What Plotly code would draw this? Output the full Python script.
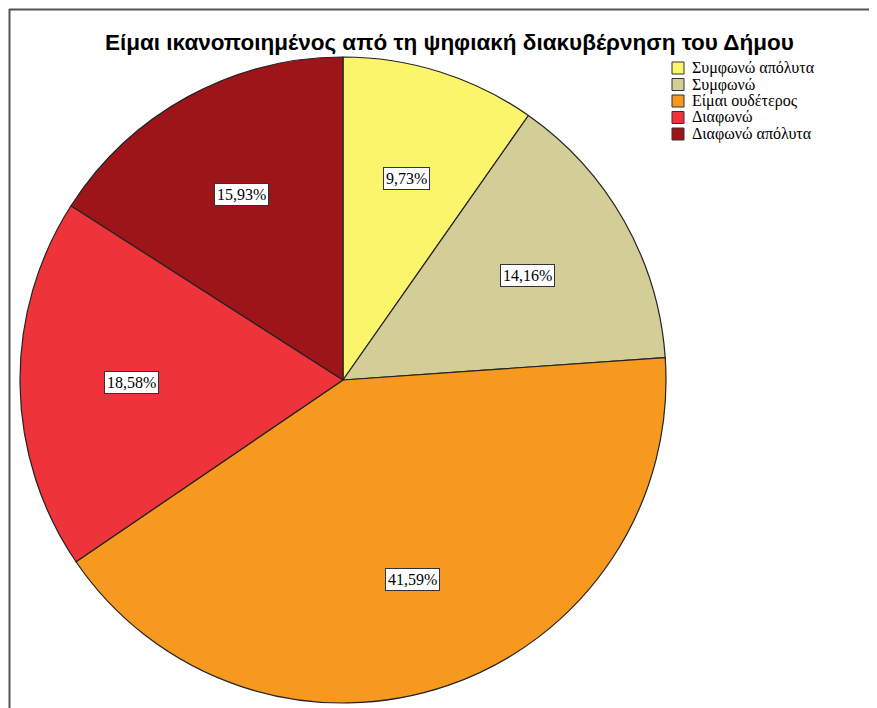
import math
import plotly.graph_objects as go

categories = ["Συμφωνώ απόλυτα", "Συμφωνώ", "Είμαι ουδέτερος", "Διαφωνώ", "Διαφωνώ απόλυτα"]
percentages = [9.73, 14.16, 41.59, 18.58, 15.93]
colors = ["#FBF56C", "#D3CD98", "#F7981F", "#EF333B", "#9E1519"]
title_text = "Είμαι ικανοποιημένος από τη ψηφιακή διακυβέρνηση του Δήμου"

# page body has an 8px margin; work in figure coordinates
OFF = 8
W, H = 877 - OFF, 708 - OFF
cx, cy, R = 343 - OFF, 380 - OFF, 323


def px(x):
    return x / W


def py(y):
    return 1 - y / H


dom_x = [px(cx - R), px(cx + R)]
dom_y = [py(cy + R), py(cy - R)]

fig = go.Figure(go.Pie(
    labels=categories,
    values=percentages,
    sort=False,
    direction="clockwise",
    rotation=0,
    marker=dict(colors=colors, line=dict(color="#222222", width=1.2)),
    textinfo="none",
    hoverinfo="label+percent",
    domain=dict(x=dom_x, y=dom_y),
    showlegend=False,
))

# boxed percentage labels at slice mid-angles
total = sum(percentages)
cum = 0
for p in percentages:
    mid = (cum + p / 2) / total * 2 * math.pi
    cum += p
    r = 0.655 * R
    lx = cx + r * math.sin(mid)
    ly = cy - r * math.cos(mid)
    fig.add_annotation(
        x=px(lx), y=py(ly), xref="paper", yref="paper",
        xanchor="center", yanchor="middle",
        text=f"{p:.2f}%".replace(".", ","),
        showarrow=False,
        font=dict(family="Liberation Serif, serif", size=16, color="#000000"),
        bgcolor="#FFFFFF", bordercolor="#333333", borderwidth=1, borderpad=2,
    )

# title
fig.add_annotation(
    x=px(449 - OFF), y=py(42 - OFF), xref="paper", yref="paper",
    xanchor="center", yanchor="middle",
    text="<b>" + title_text + "</b>", showarrow=False,
    font=dict(family="Liberation Sans, Arial, sans-serif", size=22.5, color="#000000"),
)

# custom legend
leg_x0, leg_y0, leg_dy, sq = 672 - OFF, 68 - OFF, 16.5, 12
for i, (lab, col) in enumerate(zip(categories, colors)):
    yc = leg_y0 + i * leg_dy
    fig.add_shape(type="rect", xref="paper", yref="paper",
                  x0=px(leg_x0), x1=px(leg_x0 + sq),
                  y0=py(yc + sq / 2), y1=py(yc - sq / 2),
                  fillcolor=col, line=dict(color="#333333", width=1))
    fig.add_annotation(
        x=px(leg_x0 + sq + 6), y=py(yc), xref="paper", yref="paper",
        xanchor="left", yanchor="middle", showarrow=False,
        text=lab,
        font=dict(family="Liberation Serif, serif", size=16, color="#000000"),
    )

# frame lines
fig.add_shape(type="line", xref="paper", yref="paper",
              x0=px(1), x1=1, y0=py(1.5), y1=py(1.5),
              line=dict(color="#555555", width=2))
fig.add_shape(type="line", xref="paper", yref="paper",
              x0=px(1.5), x1=px(1.5), y0=0, y1=py(1),
              line=dict(color="#555555", width=2))

fig.update_layout(
    width=W, height=H,
    margin=dict(l=0, r=0, t=0, b=0),
    paper_bgcolor="white",
    plot_bgcolor="white",
    showlegend=False,
)

fig.write_html("out.html")
